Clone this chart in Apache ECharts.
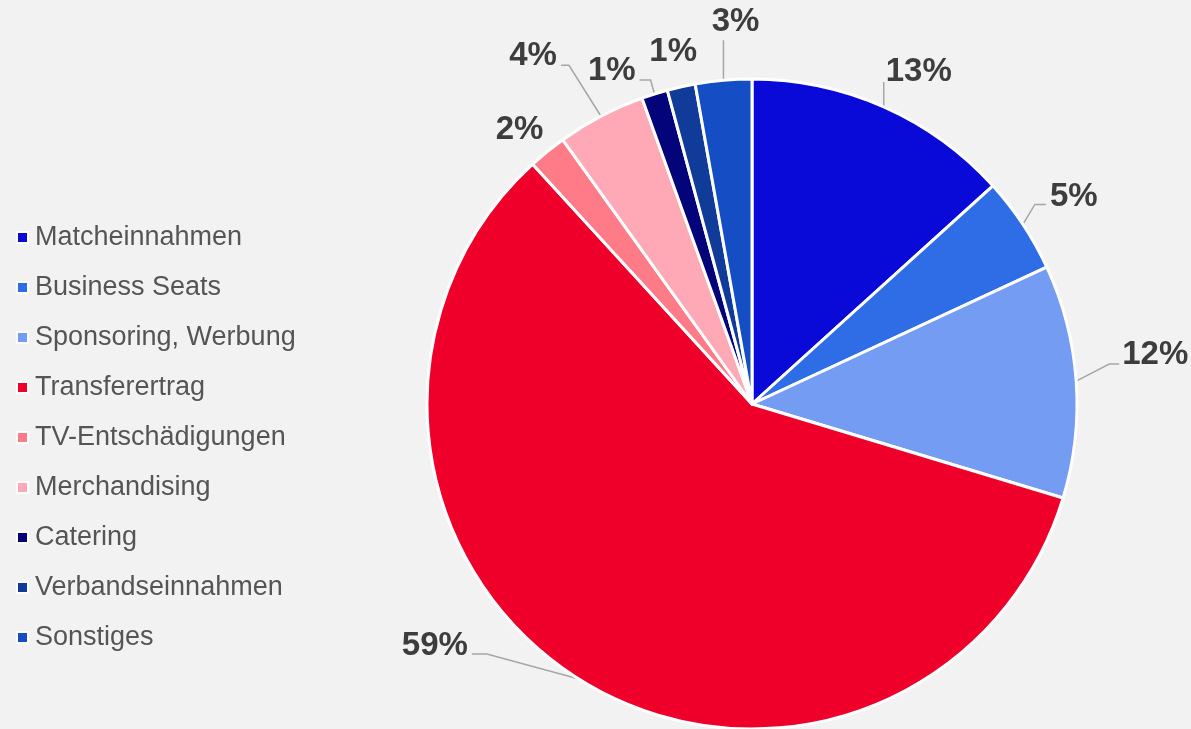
<!DOCTYPE html>
<html><head><meta charset="utf-8">
<script src="https://cdn.jsdelivr.net/npm/echarts@6/dist/echarts.min.js"></script>
<style>html,body{margin:0;padding:0;background:#f2f2f2;}#c{width:1191px;height:729px;}</style>
</head><body><div id="c"></div>
<script>
const categories = ["Matcheinnahmen","Business Seats","Sponsoring, Werbung","Transferertrag","TV-Entschädigungen","Merchandising","Catering","Verbandseinnahmen","Sonstiges"];
const values = [13.3, 4.8, 11.6, 58.6, 1.9, 4.4, 1.3, 1.4, 2.8];
const percentLabels = ["13%","5%","12%","59%","2%","4%","1%","1%","3%"];
const colors = ["#0a0ad8","#2f6de6","#739cf2","#ee002b","#ff7b88","#ffa9b7","#03037a","#113b98","#154ec4"];

// label leader-line styling, relative to the slice's edge point (layout only)
const leader = [
  { pts: [[0,-12],[0,-25]], lab: [2,-35], align: 'left' },
  { pts: [[12,-20],[23,-20]], lab: [27,-28], align: 'left' },
  { pts: [[33,-17],[43,-17]], lab: [46,-26], align: 'left' },
  { pts: [[-92,-25],[-107,-25]], lab: [-111,-33], align: 'right' },
  { pts: null, lab: [-4,-22], align: 'right' },
  { pts: [[-32,-51],[-40,-51]], lab: [-44,-60], align: 'right' },
  { pts: [[-4,-14],[-15,-14]], lab: [-19,-23], align: 'right' },
  { pts: null, lab: [-8,-35], align: 'center' },
  { pts: [[0,-20],[0,-40]], lab: [12,-58], align: 'center' }
];

const chart = echarts.init(document.getElementById('c'));
chart.setOption({
  backgroundColor: '#f2f2f2',
  animation: false,
  color: colors,
  legend: {
    orient: 'vertical', left: 16, top: 224, padding: 0,
    itemWidth: 11, itemHeight: 11, itemGap: 23,
    icon: 'rect',
    textStyle: { fontFamily: 'Liberation Sans, Arial, sans-serif', fontSize: 27, color: '#555', lineHeight: 27, padding: [0,0,0,2] },
    data: categories
  },
  series: [{
    type: 'pie',
    center: [752, 404],
    radius: 325,
    startAngle: 90,
    clockwise: true,
    avoidLabelOverlap: false,
    itemStyle: { borderColor: '#ffffff', borderWidth: 3 },
    label: {
      show: true,
      formatter: p => percentLabels[p.dataIndex],
      fontFamily: 'Liberation Sans, Arial, sans-serif',
      fontWeight: 'bold', fontSize: 33, color: '#3d3d3d',
      letterSpacing: -1
    },
    labelLine: { show: true, length: 12, length2: 12, lineStyle: { color: '#a6a6a6', width: 1.5 } },
    labelLayout: function (p) {
      const L = leader[p.dataIndex];
      const e = p.labelLinePoints[0];
      const out = {
        x: e[0] + L.lab[0], y: e[1] + L.lab[1],
        align: L.align, verticalAlign: 'middle'
      };
      if (L.pts) {
        out.labelLinePoints = [e.slice(), [e[0] + L.pts[0][0], e[1] + L.pts[0][1]], [e[0] + L.pts[1][0], e[1] + L.pts[1][1]]];
      } else {
        out.labelLinePoints = [e.slice(), e.slice(), e.slice()];
      }
      return out;
    },
    data: categories.map((c, i) => ({ name: c, value: values[i] }))
  }]
});
</script></body></html>
